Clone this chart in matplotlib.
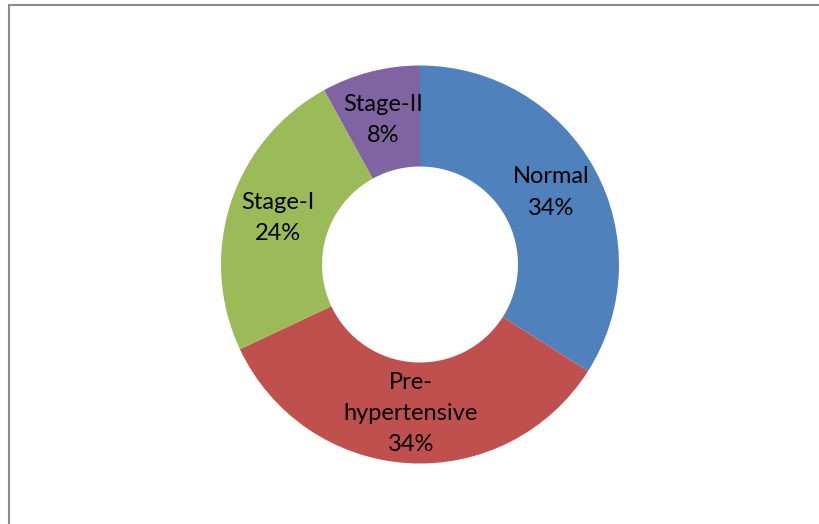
import matplotlib
matplotlib.use("Agg")
import matplotlib.pyplot as plt
from matplotlib.patches import Rectangle

categories = ["Normal", "Pre-\nhypertensive", "Stage-I", "Stage-II"]
values = [34, 34, 24, 8]
colors = ["#4F81BD", "#C0504D", "#9BBB59", "#8064A2"]

W, H = 820, 524
fig = plt.figure(figsize=(W / 100, H / 100), dpi=100)
ax = fig.add_axes([0, 0, 1, 1])

labels = [f"{c}\n{v}%" for c, v in zip(categories, values)]
wedges, texts = ax.pie(values, colors=colors, labels=labels, startangle=90,
                       counterclock=False, center=(420, H - 264.5), radius=199,
                       labeldistance=0.75,
                       wedgeprops=dict(width=101, edgecolor="none"),
                       textprops=dict(fontsize=17, family=["Lato", "DejaVu Sans"],
                                      color="black", linespacing=1.6))
for t in texts:
    t.set_ha("center")
    t.set_va("center")

ax.set_xlim(0, W)
ax.set_ylim(0, H)
ax.set_aspect("auto")
ax.axis("off")

# chart area border (top/left visible)
fig.patches.append(Rectangle((8.5 / W, -0.1), 1.2, (H - 4.5) / H + 0.1,
                             transform=fig.transFigure, fill=False,
                             edgecolor="#8c8c8c", linewidth=1.5, clip_on=False))

fig.savefig("out.png", dpi=100, facecolor="white")
